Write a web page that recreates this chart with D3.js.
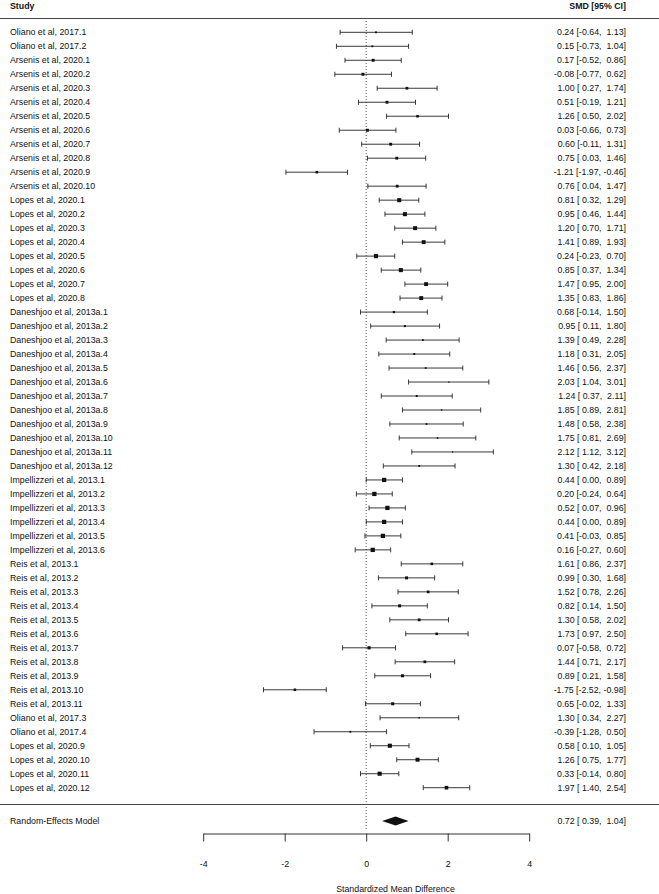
<!DOCTYPE html>
<html>
<head>
<meta charset="utf-8">
<style>
    html, body {
        margin: 0;
        padding: 0;
        background-color: white;
    }
    svg text {
        font-family: 'Liberation Sans', Arial, Helvetica, sans-serif;
        font-size: 8.8px;
        fill: #111;
        white-space: pre;
    }
    .bold {
        font-weight: bold;
    }
    .axis text {
        font-size: 8.8px;
    }
</style>
<script src="https://cdn.jsdelivr.net/npm/d3@7"></script>
</head>
<body>
<svg width="659" height="894"></svg>
<script>
    // study labels, top to bottom
    var studies = [
        'Oliano et al, 2017.1', 'Oliano et al, 2017.2',
        'Arsenis et al, 2020.1', 'Arsenis et al, 2020.2', 'Arsenis et al, 2020.3', 'Arsenis et al, 2020.4',
        'Arsenis et al, 2020.5', 'Arsenis et al, 2020.6', 'Arsenis et al, 2020.7', 'Arsenis et al, 2020.8',
        'Arsenis et al, 2020.9', 'Arsenis et al, 2020.10',
        'Lopes et al, 2020.1', 'Lopes et al, 2020.2', 'Lopes et al, 2020.3', 'Lopes et al, 2020.4',
        'Lopes et al, 2020.5', 'Lopes et al, 2020.6', 'Lopes et al, 2020.7', 'Lopes et al, 2020.8',
        'Daneshjoo et al, 2013a.1', 'Daneshjoo et al, 2013a.2', 'Daneshjoo et al, 2013a.3', 'Daneshjoo et al, 2013a.4',
        'Daneshjoo et al, 2013a.5', 'Daneshjoo et al, 2013a.6', 'Daneshjoo et al, 2013a.7', 'Daneshjoo et al, 2013a.8',
        'Daneshjoo et al, 2013a.9', 'Daneshjoo et al, 2013a.10', 'Daneshjoo et al, 2013a.11', 'Daneshjoo et al, 2013a.12',
        'Impellizzeri et al, 2013.1', 'Impellizzeri et al, 2013.2', 'Impellizzeri et al, 2013.3',
        'Impellizzeri et al, 2013.4', 'Impellizzeri et al, 2013.5', 'Impellizzeri et al, 2013.6',
        'Reis et al, 2013.1', 'Reis et al, 2013.2', 'Reis et al, 2013.3', 'Reis et al, 2013.4',
        'Reis et al, 2013.5', 'Reis et al, 2013.6', 'Reis et al, 2013.7', 'Reis et al, 2013.8',
        'Reis et al, 2013.9', 'Reis et al, 2013.10', 'Reis et al, 2013.11',
        'Oliano et al, 2017.3', 'Oliano et al, 2017.4',
        'Lopes et al, 2020.9', 'Lopes et al, 2020.10', 'Lopes et al, 2020.11', 'Lopes et al, 2020.12'
    ];
    var smd = [
        0.24, 0.15,
        0.17, -0.08, 1.00, 0.51, 1.26, 0.03, 0.60, 0.75, -1.21, 0.76,
        0.81, 0.95, 1.20, 1.41, 0.24, 0.85, 1.47, 1.35,
        0.68, 0.95, 1.39, 1.18, 1.46, 2.03, 1.24, 1.85, 1.48, 1.75, 2.12, 1.30,
        0.44, 0.20, 0.52, 0.44, 0.41, 0.16,
        1.61, 0.99, 1.52, 0.82, 1.30, 1.73, 0.07, 1.44, 0.89, -1.75, 0.65,
        1.30, -0.39,
        0.58, 1.26, 0.33, 1.97
    ];
    var ciLower = [
        -0.64, -0.73,
        -0.52, -0.77, 0.27, -0.19, 0.50, -0.66, -0.11, 0.03, -1.97, 0.04,
        0.32, 0.46, 0.70, 0.89, -0.23, 0.37, 0.95, 0.83,
        -0.14, 0.11, 0.49, 0.31, 0.56, 1.04, 0.37, 0.89, 0.58, 0.81, 1.12, 0.42,
        0.00, -0.24, 0.07, 0.00, -0.03, -0.27,
        0.86, 0.30, 0.78, 0.14, 0.58, 0.97, -0.58, 0.71, 0.21, -2.52, -0.02,
        0.34, -1.28,
        0.10, 0.75, -0.14, 1.40
    ];
    var ciUpper = [
        1.13, 1.04,
        0.86, 0.62, 1.74, 1.21, 2.02, 0.73, 1.31, 1.46, -0.46, 1.47,
        1.29, 1.44, 1.71, 1.93, 0.70, 1.34, 2.00, 1.86,
        1.50, 1.80, 2.28, 2.05, 2.37, 3.01, 2.11, 2.81, 2.38, 2.69, 3.12, 2.18,
        0.89, 0.64, 0.96, 0.89, 0.85, 0.60,
        2.37, 1.68, 2.26, 1.50, 2.02, 2.50, 0.72, 2.17, 1.58, -0.98, 1.33,
        2.27, 0.50,
        1.05, 1.77, 0.80, 2.54
    ];
    // pooled random-effects estimate
    var reLabel = 'Random-Effects Model';
    var reEst = 0.72, reLower = 0.39, reUpper = 1.04;
    var xTicks = [-4, -2, 0, 2, 4];
    var xTitle = 'Standardized Mean Difference';

    var svg = d3.select('svg');
    var width = 659;
    var labelX = 10;     // left edge of study names
    var annotX = 626;    // right edge of the SMD column

    var x = d3.scaleLinear().domain([-4, 4]).range([203.2, 529.2]);
    var y = d3.scalePoint().domain(studies).range([32.3, 787.7]);

    // square size from inverse variance weights
    var tau2 = 0.5;
    var w = studies.map(function (d, i) {
        var se = (ciUpper[i] - ciLower[i]) / (2 * 1.96);
        return 1 / (se * se + tau2);
    });
    var size = d3.scaleLinear().domain(d3.extent(w)).range([1.2, 4.3]);

    function fmt(v) { return v.toFixed(2); }
    function pad(v) { return v < 0 ? fmt(v) : ' ' + fmt(v); }
    function annot(e, lo, hi) { return fmt(e) + ' [' + pad(lo) + ', ' + pad(hi) + ']'; }

    // headers and rules
    svg.append('text').attr('class', 'bold').attr('x', labelX).attr('y', 9).text('Study');
    svg.append('text').attr('class', 'bold').attr('x', annotX).attr('y', 9)
        .attr('text-anchor', 'end').text('SMD [95% CI]');
    svg.append('line').attr('x1', 0).attr('x2', width).attr('y1', 18.5).attr('y2', 18.5)
        .attr('stroke', '#444').attr('stroke-width', 1.2);
    svg.append('line').attr('x1', 0).attr('x2', width).attr('y1', 804.5).attr('y2', 804.5)
        .attr('stroke', '#444').attr('stroke-width', 1.2);

    // reference line at 0
    svg.append('line')
        .attr('x1', x(0)).attr('x2', x(0))
        .attr('y1', 21).attr('y2', 831)
        .attr('stroke', '#333').attr('stroke-width', 0.8)
        .attr('stroke-dasharray', '1,2');

    var rows = svg.append('g').selectAll('g')
        .data(studies)
        .enter()
        .append('g')
        .attr('transform', function (d) { return 'translate(0,' + y(d) + ')'; });

    rows.append('text')
        .attr('x', labelX).attr('dy', '0.35em')
        .text(function (d) { return d; });

    rows.append('text')
        .attr('x', annotX).attr('dy', '0.35em')
        .attr('text-anchor', 'end')
        .text(function (d, i) { return annot(smd[i], ciLower[i], ciUpper[i]); });

    rows.append('line')
        .attr('x1', function (d, i) { return x(ciLower[i]); })
        .attr('x2', function (d, i) { return x(ciUpper[i]); })
        .attr('stroke', '#222').attr('stroke-width', 0.9);
    rows.append('line')
        .attr('x1', function (d, i) { return x(ciLower[i]); })
        .attr('x2', function (d, i) { return x(ciLower[i]); })
        .attr('y1', -2.5).attr('y2', 2.5)
        .attr('stroke', '#222').attr('stroke-width', 0.9);
    rows.append('line')
        .attr('x1', function (d, i) { return x(ciUpper[i]); })
        .attr('x2', function (d, i) { return x(ciUpper[i]); })
        .attr('y1', -2.5).attr('y2', 2.5)
        .attr('stroke', '#222').attr('stroke-width', 0.9);
    rows.append('rect')
        .attr('x', function (d, i) { return x(smd[i]) - size(w[i]) / 2; })
        .attr('y', function (d, i) { return -size(w[i]) / 2; })
        .attr('width', function (d, i) { return size(w[i]); })
        .attr('height', function (d, i) { return size(w[i]); })
        .attr('fill', '#111');

    // summary row
    var reY = 821;
    svg.append('text').attr('x', labelX).attr('y', reY).attr('dy', '0.35em').text(reLabel);
    svg.append('text').attr('x', annotX).attr('y', reY).attr('dy', '0.35em')
        .attr('text-anchor', 'end').text(annot(reEst, reLower, reUpper));
    svg.append('polygon')
        .attr('points', [
            [x(reLower), reY], [x(reEst), reY - 4.5],
            [x(reUpper), reY], [x(reEst), reY + 4.5]
        ].map(function (p) { return p.join(','); }).join(' '))
        .attr('fill', '#111');

    // x axis
    var xAxis = d3.axisBottom(x)
        .tickValues(xTicks)
        .tickFormat(d3.format('d'))
        .tickSize(8)
        .tickSizeOuter(0)
        .tickPadding(19);
    var gAxis = svg.append('g')
        .attr('class', 'axis')
        .attr('transform', 'translate(0,833.5)')
        .call(xAxis);
    gAxis.selectAll('path, line').attr('stroke', '#333');
    gAxis.selectAll('text').attr('fill', '#111')
        .text(function (d) { return d < 0 ? '-' + Math.abs(d) : d; });

    svg.append('text')
        .attr('x', 395.5).attr('y', 892)
        .attr('text-anchor', 'middle')
        .text(xTitle);
</script>
</body>
</html>
